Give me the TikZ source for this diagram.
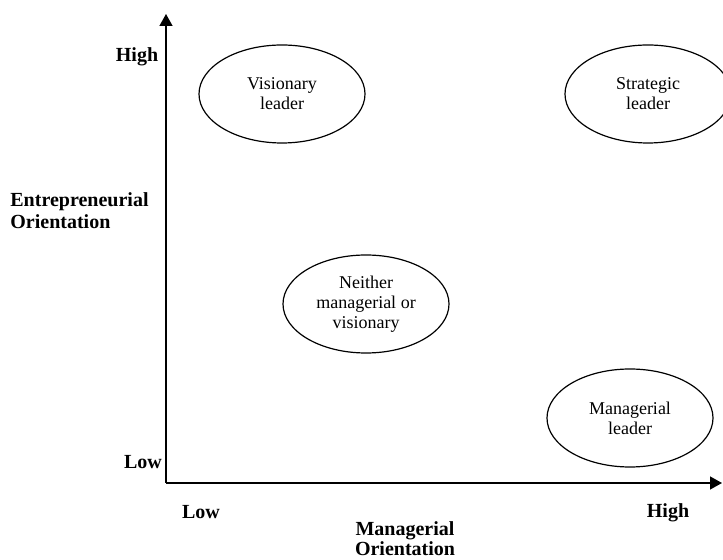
\documentclass[tikz,border=0pt]{standalone}
\usepackage{fontspec}
\setmainfont{Liberation Serif}
\usetikzlibrary{arrows.meta}
\usetikzlibrary{shapes.geometric}
\tikzset{
    axis/.style={draw=black, line width=0.65pt, -{Triangle[length=6pt,width=6.5pt]}},
    quadrant/.style={draw=black, ellipse, line width=0.6pt, minimum width=83pt, minimum height=49pt,
        inner sep=0pt, align=center, font=\fontsize{9}{10}\selectfont},
    axislabel/.style={font=\fontsize{10}{11}\selectfont\bfseries, inner sep=0pt},
}

\begin{document}
\begin{tikzpicture}[x=0.5pt, y=-0.5pt]
	\useasboundingbox (0,0) rectangle (723,560);
	\coordinate (origin) at (166,483);
	\coordinate (ytop) at (166,14);
	\coordinate (xend) at (722,483);
	\draw[axis] (origin) -- (ytop);
	\draw[axis] (origin) -- (xend);
	% scale labels
	\node[axislabel] (yhigh) at (137,57) {High};
	\node[axislabel] (ylow) at (143,462) {Low};
	\node[axislabel] (xlow) at (201,512) {Low};
	\node[axislabel] (xhigh) at (668,513) {High};
	\node[axislabel, anchor=west, align=left] (ytitle) at (10,211) {Entrepreneurial\\Orientation};
	\node[axislabel, align=center, font=\fontsize{10}{10}\selectfont\bfseries] (xtitle) at (405,539) {Managerial\\Orientation};
	% quadrants
	\node[quadrant] (visionary) at (282,94) {Visionary\\leader};
	\node[quadrant] (strategic) at (648,94) {Strategic\\leader};
	\node[quadrant] (neither) at (366,304) {Neither\\managerial or\\visionary};
	\node[quadrant] (managerial) at (630,418) {Managerial\\leader};
\end{tikzpicture}
\end{document}
